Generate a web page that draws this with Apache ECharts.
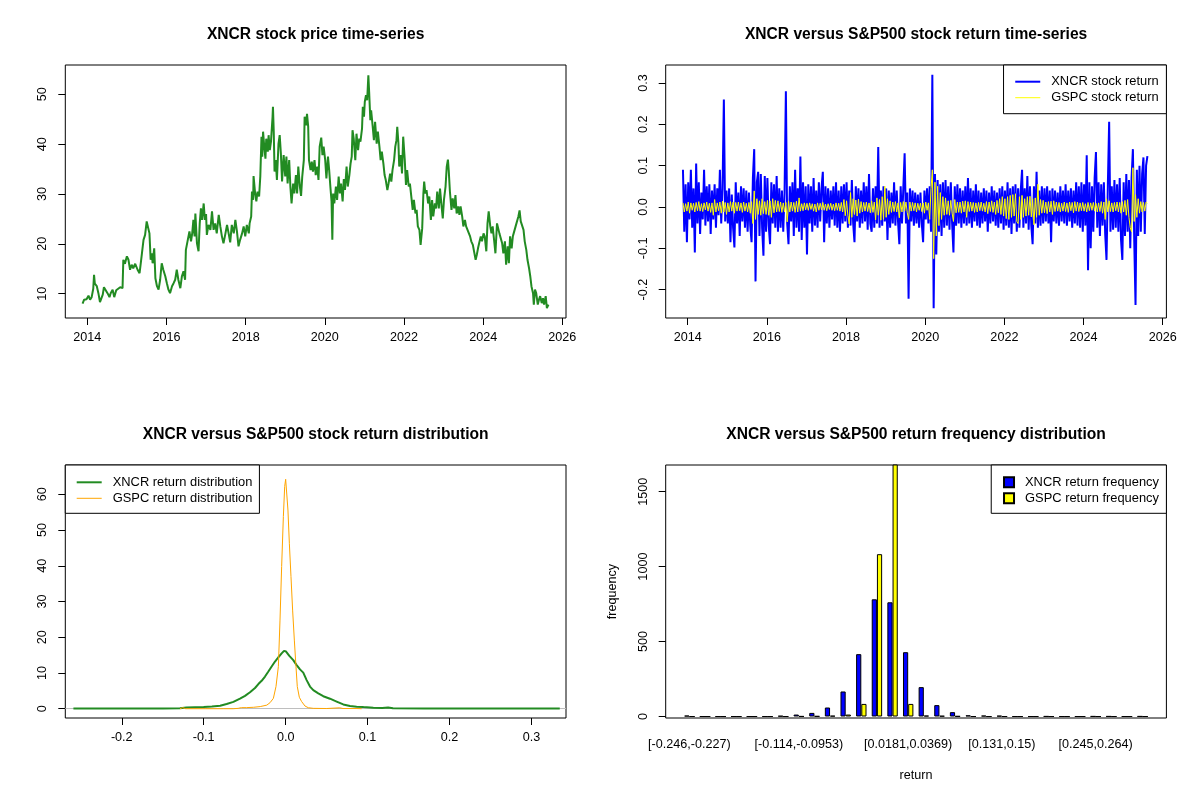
<!DOCTYPE html>
<html><head><meta charset="utf-8">
<script src="https://cdn.jsdelivr.net/npm/echarts@6/dist/echarts.min.js"></script>
<style>html,body{margin:0;padding:0;background:#fff}#c{width:1200px;height:800px}</style>
</head><body><div id="c"></div>
<script>
// ---------- DATA ----------
const pricePoints = [[2013.88,8.0],[2013.90,7.6],[2013.92,8.8],[2013.98,8.9],[2014.03,9.6],[2014.07,8.8],[2014.11,9.3],[2014.15,11.0],[2014.17,13.8],[2014.19,12.0],[2014.24,11.5],[2014.28,10.1],[2014.32,8.3],[2014.36,8.0],[2014.39,9.8],[2014.42,11.3],[2014.47,11.5],[2014.51,10.1],[2014.56,9.3],[2014.59,10.1],[2014.64,10.8],[2014.68,9.3],[2014.73,10.7],[2014.78,10.8],[2014.83,11.3],[2014.89,11.1],[2014.91,16.8],[2014.95,16.0],[2015.00,17.5],[2015.04,16.8],[2015.08,14.8],[2015.12,15.8],[2015.16,15.1],[2015.21,16.0],[2015.27,14.8],[2015.32,14.1],[2015.35,16.1],[2015.38,18.1],[2015.42,20.8],[2015.46,21.8],[2015.50,24.5],[2015.54,24.1],[2015.57,22.1],[2015.60,16.8],[2015.63,18.1],[2015.65,16.1],[2015.69,19.1],[2015.72,13.1],[2015.76,11.5],[2015.80,10.8],[2015.84,12.8],[2015.88,16.1],[2015.92,14.8],[2015.97,13.5],[2016.01,12.1],[2016.05,10.8],[2016.09,10.1],[2016.14,11.5],[2016.18,12.1],[2016.22,12.8],[2016.26,14.8],[2016.30,12.8],[2016.35,11.1],[2016.39,13.5],[2016.43,14.5],[2016.47,12.8],[2016.49,18.8],[2016.53,18.8],[2016.58,22.5],[2016.62,20.5],[2016.65,22.1],[2016.68,24.8],[2016.71,21.5],[2016.73,26.1],[2016.77,20.1],[2016.81,18.5],[2016.84,24.1],[2016.87,27.1],[2016.90,24.8],[2016.94,28.1],[2016.97,24.8],[2017.00,26.0],[2017.02,21.8],[2017.06,23.8],[2017.11,22.8],[2017.15,26.5],[2017.19,22.8],[2017.23,24.1],[2017.27,22.1],[2017.32,25.8],[2017.36,23.5],[2017.40,21.5],[2017.44,20.1],[2017.49,22.1],[2017.53,23.8],[2017.57,22.1],[2017.61,20.3],[2017.65,23.8],[2017.70,22.1],[2017.74,24.8],[2017.78,22.5],[2017.82,19.5],[2017.86,20.8],[2017.91,22.1],[2017.95,23.5],[2017.99,21.5],[2018.03,23.8],[2018.08,22.1],[2018.10,24.1],[2018.14,25.5],[2018.16,30.5],[2018.19,28.8],[2018.20,33.6],[2018.24,30.1],[2018.27,28.5],[2018.30,30.5],[2018.34,29.5],[2018.37,33.5],[2018.40,41.5],[2018.42,37.5],[2018.44,42.5],[2018.47,39.5],[2018.50,37.1],[2018.52,41.1],[2018.56,38.5],[2018.58,41.8],[2018.61,38.8],[2018.64,40.5],[2018.68,45.5],[2018.69,47.5],[2018.71,42.5],[2018.73,34.5],[2018.76,36.8],[2018.79,32.8],[2018.83,40.1],[2018.86,41.8],[2018.89,38.1],[2018.92,32.5],[2018.96,37.8],[2019.00,33.5],[2019.03,37.5],[2019.06,32.1],[2019.10,36.8],[2019.13,31.5],[2019.16,28.1],[2019.20,32.1],[2019.23,30.1],[2019.27,33.8],[2019.30,30.1],[2019.33,35.5],[2019.37,31.5],[2019.40,29.6],[2019.43,33.5],[2019.47,36.8],[2019.49,45.5],[2019.53,43.8],[2019.55,46.1],[2019.58,43.5],[2019.60,36.8],[2019.64,34.8],[2019.67,36.5],[2019.70,34.5],[2019.74,36.8],[2019.77,33.8],[2019.81,35.5],[2019.84,32.8],[2019.87,39.5],[2019.91,41.3],[2019.94,37.8],[2019.97,39.5],[2020.01,36.8],[2020.04,33.1],[2020.08,37.5],[2020.11,34.8],[2020.14,31.5],[2020.17,28.5],[2020.19,20.8],[2020.21,30.1],[2020.24,28.1],[2020.28,31.5],[2020.31,28.8],[2020.35,33.5],[2020.38,30.1],[2020.41,32.1],[2020.45,28.5],[2020.48,33.0],[2020.51,30.8],[2020.55,35.5],[2020.58,31.5],[2020.62,33.8],[2020.65,36.1],[2020.68,37.5],[2020.70,42.8],[2020.73,41.1],[2020.77,36.8],[2020.80,42.1],[2020.84,38.8],[2020.87,41.1],[2020.90,40.5],[2020.94,43.1],[2020.96,47.5],[2020.99,45.5],[2021.01,48.5],[2021.04,49.8],[2021.07,48.8],[2021.10,53.8],[2021.12,50.5],[2021.15,44.8],[2021.17,46.8],[2021.21,43.5],[2021.24,40.8],[2021.27,44.5],[2021.31,40.1],[2021.34,42.5],[2021.38,39.5],[2021.41,36.8],[2021.44,38.5],[2021.48,36.1],[2021.51,33.8],[2021.54,32.8],[2021.58,30.8],[2021.61,32.1],[2021.65,34.1],[2021.68,32.5],[2021.71,34.8],[2021.75,36.8],[2021.78,39.5],[2021.81,40.8],[2021.83,43.5],[2021.86,40.1],[2021.88,35.5],[2021.92,37.8],[2021.95,34.1],[2021.98,41.5],[2022.02,36.8],[2022.05,31.8],[2022.08,34.8],[2022.12,31.5],[2022.15,32.1],[2022.19,29.1],[2022.22,26.8],[2022.25,28.8],[2022.29,26.1],[2022.32,26.8],[2022.35,23.5],[2022.39,22.8],[2022.42,19.8],[2022.46,23.1],[2022.49,30.1],[2022.51,32.5],[2022.54,30.1],[2022.57,30.8],[2022.61,28.1],[2022.64,29.5],[2022.68,24.8],[2022.71,28.8],[2022.74,25.5],[2022.78,28.1],[2022.81,27.1],[2022.84,30.5],[2022.88,27.1],[2022.91,31.1],[2022.95,27.5],[2022.98,25.1],[2023.01,28.8],[2023.05,31.5],[2023.08,35.5],[2023.11,36.9],[2023.13,34.8],[2023.16,30.5],[2023.20,26.8],[2023.23,29.1],[2023.27,27.1],[2023.30,29.8],[2023.33,26.1],[2023.37,27.5],[2023.40,25.8],[2023.43,27.5],[2023.47,25.5],[2023.50,23.5],[2023.54,24.8],[2023.57,23.5],[2023.60,23.1],[2023.64,22.1],[2023.67,21.5],[2023.70,20.5],[2023.74,19.8],[2023.77,18.5],[2023.81,16.8],[2023.84,17.8],[2023.87,19.1],[2023.91,20.5],[2023.94,21.5],[2023.97,20.5],[2024.01,22.1],[2024.04,21.5],[2024.08,18.5],[2024.11,24.1],[2024.14,26.5],[2024.18,23.5],[2024.21,22.1],[2024.24,23.5],[2024.28,20.5],[2024.31,18.1],[2024.35,24.1],[2024.38,24.5],[2024.41,22.1],[2024.45,22.1],[2024.48,20.1],[2024.51,18.1],[2024.55,20.5],[2024.58,15.8],[2024.62,19.5],[2024.65,16.1],[2024.68,21.5],[2024.72,19.1],[2024.75,21.5],[2024.78,21.1],[2024.82,23.5],[2024.85,23.8],[2024.89,25.5],[2024.92,26.7],[2024.95,24.5],[2024.99,24.8],[2025.02,22.8],[2025.05,20.5],[2025.09,18.8],[2025.12,16.8],[2025.16,15.1],[2025.19,13.5],[2025.22,11.5],[2025.26,10.1],[2025.28,7.8],[2025.31,10.8],[2025.34,10.1],[2025.38,7.8],[2025.41,8.8],[2025.44,9.5],[2025.48,8.1],[2025.51,9.1],[2025.54,7.8],[2025.58,9.5],[2025.61,7.1],[2025.65,7.8]];

const returnStart = 2013.88;
const returnStep = 1/30;
const xncrReturns = [
0.09,-0.06,0.055,-0.085,0.06,-0.03,0.09,-0.05,0.045,-0.11,0.105,-0.04,0.06,-0.065,0.035,-0.03,0.09,-0.045,0.05,-0.035,0.055,-0.065,0.04,-0.03,0.055,-0.05,0.045,-0.02,0.09,-0.04,
0.045,0.26,-0.035,0.04,-0.04,0.045,-0.085,0.03,-0.05,-0.098,0.06,-0.04,0.035,-0.07,0.05,-0.035,0.045,-0.05,0.04,-0.06,0.035,-0.045,-0.085,0.07,0.14,-0.18,0.06,0.085,-0.07,0.08,
-0.05,-0.118,0.075,-0.06,0.07,-0.045,-0.09,0.06,-0.04,0.055,-0.05,0.075,-0.06,0.045,-0.05,0.04,-0.06,0.035,0.28,-0.04,-0.09,0.05,-0.035,0.06,-0.07,0.09,-0.05,0.045,-0.06,0.122,
-0.08,0.06,-0.05,0.05,-0.115,0.055,-0.04,0.05,-0.06,0.07,-0.045,0.04,-0.05,0.06,-0.035,0.045,0.085,-0.085,0.05,-0.04,0.045,-0.05,0.04,-0.03,0.05,-0.045,0.06,-0.05,0.04,-0.06,
0.05,-0.04,0.055,-0.035,0.06,-0.05,0.04,-0.045,0.065,-0.04,-0.085,0.05,-0.035,0.045,-0.05,0.04,-0.04,0.06,-0.035,0.05,-0.055,0.08,-0.04,-0.06,0.045,-0.05,0.05,-0.04,0.145,-0.05,
0.04,-0.045,0.05,-0.035,0.045,-0.08,0.04,-0.05,0.035,-0.04,0.06,-0.045,0.04,-0.035,-0.09,0.05,-0.04,0.045,0.13,-0.04,0.035,-0.222,0.045,-0.035,0.04,-0.045,0.035,-0.04,0.03,-0.05,
0.035,-0.04,-0.085,0.04,-0.03,0.045,-0.04,0.05,-0.06,0.32,-0.245,0.08,-0.115,0.065,-0.06,0.055,-0.07,0.06,-0.05,0.065,-0.045,0.05,-0.055,0.06,-0.04,-0.11,0.05,-0.045,0.055,-0.04,
0.045,-0.05,0.04,-0.04,0.05,-0.045,0.07,-0.04,0.045,-0.05,0.04,-0.035,0.055,-0.045,0.04,-0.05,0.035,-0.04,0.045,-0.035,0.04,-0.06,0.035,-0.04,0.05,-0.035,0.04,-0.045,0.035,-0.05,
0.045,-0.04,0.05,-0.055,0.04,-0.045,0.06,-0.05,0.045,-0.065,0.05,-0.04,0.055,-0.06,0.045,-0.05,0.04,0.09,-0.05,0.045,-0.04,0.075,-0.055,0.05,-0.045,-0.09,0.05,-0.04,0.085,-0.05,
0.04,-0.045,0.05,-0.04,0.045,-0.035,0.05,-0.04,0.04,-0.085,0.045,-0.035,0.04,-0.04,0.035,-0.045,0.05,-0.035,0.04,-0.04,0.055,-0.045,0.04,-0.035,0.045,-0.05,0.04,-0.04,0.06,-0.045,
0.05,-0.05,0.06,-0.06,0.055,-0.045,0.125,-0.153,0.06,-0.1,0.05,-0.06,0.07,0.133,-0.05,0.06,-0.07,0.055,-0.045,0.06,-0.065,-0.128,0.05,0.206,-0.06,0.05,-0.055,0.065,-0.05,0.055,
-0.06,0.07,-0.08,-0.128,0.06,-0.07,0.08,-0.06,0.065,-0.1,0.07,0.14,-0.08,-0.237,0.09,-0.07,0.1,-0.06,0.08,0.12,-0.065,0.1,0.123];
const gspcReturns = [
0.01,-0.012,0.008,-0.01,0.012,-0.015,0.01,-0.008,0.009,-0.012,0.011,-0.009,0.013,-0.01,0.008,-0.011,0.01,-0.007,0.012,-0.01,0.009,-0.013,0.01,-0.02,0.018,-0.012,0.01,-0.009,0.012,-0.015,
0.014,-0.012,0.011,-0.018,0.01,-0.012,0.013,-0.01,0.012,-0.015,0.011,-0.01,0.012,-0.009,0.01,-0.013,0.012,-0.01,0.009,-0.012,0.011,-0.015,0.013,-0.04,0.039,-0.03,0.02,-0.018,0.015,-0.02,
0.02,-0.016,0.013,-0.018,0.016,-0.02,0.015,-0.025,0.02,-0.014,0.016,-0.012,0.015,-0.011,0.012,-0.013,0.01,-0.012,0.011,-0.036,0.015,-0.012,0.012,-0.01,0.011,-0.013,0.014,-0.012,0.022,-0.01,
0.008,-0.009,0.01,-0.007,0.009,-0.008,0.01,-0.006,0.008,-0.01,0.007,-0.012,0.01,-0.008,0.009,-0.007,0.011,-0.008,0.007,-0.009,0.008,-0.006,0.009,-0.008,0.007,-0.009,0.01,-0.008,0.009,-0.01,
0.011,-0.012,0.018,-0.021,0.015,-0.02,-0.041,0.035,-0.025,0.02,-0.018,0.017,-0.022,0.019,-0.015,0.013,-0.012,0.011,-0.01,0.012,-0.011,0.01,-0.014,0.015,-0.013,0.012,-0.031,0.022,-0.02,0.018,
-0.032,0.025,-0.03,0.05,-0.025,0.02,-0.018,0.015,-0.013,0.012,-0.011,0.013,-0.012,0.01,-0.026,0.011,-0.012,0.013,-0.01,0.012,-0.014,-0.03,0.012,-0.01,0.011,-0.009,0.01,-0.012,0.009,-0.008,
0.009,-0.011,0.01,-0.015,0.012,-0.008,0.01,-0.03,0.045,0.09,-0.125,0.06,-0.07,0.05,-0.045,0.035,-0.03,0.025,-0.02,0.022,-0.018,0.015,-0.02,0.016,-0.015,-0.035,0.018,-0.014,0.012,-0.013,
0.012,-0.015,0.014,-0.012,0.015,-0.025,0.013,-0.011,0.012,-0.01,0.011,-0.013,0.01,-0.012,0.011,-0.009,0.012,-0.01,0.009,-0.012,0.013,-0.016,0.012,-0.011,0.015,-0.013,0.012,-0.018,0.016,-0.014,
0.02,-0.018,0.025,-0.022,0.02,-0.028,0.025,-0.03,0.028,-0.025,0.03,-0.022,0.032,-0.035,-0.04,0.025,-0.03,0.028,-0.025,0.02,-0.022,0.025,-0.02,0.026,-0.024,0.02,-0.043,0.022,-0.025,0.055,
-0.02,0.018,-0.015,0.016,-0.014,0.012,-0.016,0.013,-0.012,0.014,-0.018,0.015,-0.011,0.012,-0.01,0.011,-0.012,0.009,-0.01,0.012,-0.011,0.01,-0.013,0.012,-0.009,0.011,-0.014,0.013,-0.01,0.012,
-0.011,0.01,-0.009,0.011,-0.01,0.008,-0.012,0.011,-0.009,0.01,-0.008,0.011,-0.01,0.009,-0.012,0.01,-0.011,0.013,-0.015,0.012,-0.03,0.02,-0.012,0.015,-0.011,0.01,-0.012,0.011,-0.009,0.012,
-0.012,0.011,-0.015,0.013,-0.012,0.016,-0.02,0.018,-0.025,-0.05,-0.06,0.095,-0.035,0.03,-0.025,0.02,-0.015,0.013,-0.012,0.011,-0.01,0.012,0.009];

const xncrDensity = [[-0.259,0.05],[-0.2,0.05],[-0.15,0.08],[-0.129,0.15],[-0.121,0.37],[-0.1,0.47],[-0.09,0.65],[-0.08,0.84],[-0.072,1.3],[-0.0638,1.9],[-0.0557,2.8],[-0.0496,3.6],[-0.0435,4.6],[-0.0374,5.8],[-0.0333,6.9],[-0.0293,7.8],[-0.0252,9.0],[-0.0211,10.4],[-0.0171,11.8],[-0.013,13.2],[-0.0089,14.4],[-0.0049,15.5],[-0.002,16.2],[0.0005,16.0],[0.0045,14.8],[0.0093,13.6],[0.0134,12.2],[0.0175,11.0],[0.0215,10.1],[0.0256,8.0],[0.0297,6.2],[0.0337,5.2],[0.0398,4.3],[0.0459,3.5],[0.0541,2.8],[0.0622,2.0],[0.0703,1.2],[0.0785,0.75],[0.0866,0.56],[0.095,0.45],[0.107,0.3],[0.118,0.2],[0.125,0.35],[0.131,0.12],[0.17,0.06],[0.22,0.05],[0.26,0.07],[0.28,0.07],[0.32,0.06],[0.3345,0.05]];
const gspcDensity = [[-0.129,0],[-0.1256,0.3],[-0.122,0],[-0.102,0],[-0.1,0.3],[-0.098,0],[-0.08,0],[-0.078,0.3],[-0.076,0],[-0.064,0],[-0.062,0.3],[-0.058,0.1],[-0.054,0.3],[-0.048,0.3],[-0.039,0.4],[-0.031,0.6],[-0.023,1.0],[-0.019,1.7],[-0.015,2.9],[-0.0118,6.2],[-0.0089,11.8],[-0.0069,24.8],[-0.0049,39.8],[-0.0028,53.8],[-0.0012,62.2],[0,64.2],[0.0012,63.8],[0.0028,55.6],[0.0045,46.3],[0.0065,37.0],[0.0085,27.6],[0.0106,19.2],[0.0126,11.8],[0.0142,6.2],[0.0167,3.2],[0.0195,2.0],[0.0236,0.75],[0.0276,0.28],[0.0337,0.1],[0.05,0.05],[0.066,0.25],[0.07,0.05],[0.087,0.05],[0.0894,0.3],[0.0927,0]];

const binLabels = ['[-0.246,-0.227)','[-0.227,-0.208)','[-0.208,-0.189)','[-0.189,-0.17)','[-0.17,-0.152)','[-0.152,-0.133)','[-0.133,-0.114)','[-0.114,-0.0953)','[-0.0953,-0.0764)','[-0.0764,-0.0575)','[-0.0575,-0.0386)','[-0.0386,-0.0197)','[-0.0197,-0.000762)','[-0.000762,0.0181)','[0.0181,0.0369)','[0.0369,0.0558)','[0.0558,0.0747)','[0.0747,0.0936)','[0.0936,0.112)','[0.112,0.131)','[0.131,0.15)','[0.15,0.169)','[0.169,0.188)','[0.188,0.207)','[0.207,0.226)','[0.226,0.245)','[0.245,0.264)','[0.264,0.283)','[0.283,0.302)','[0.302,0.321]'];
const binLabelShown = [0,7,14,20,26];
const xncrFreq = [6,0,0,0,0,0,4,13,24,60,167,416,782,762,429,196,76,29,8,6,5,0,0,1,0,0,1,1,0,1];
const gspcFreq = [0,0,0,0,0,0,0,1,2,5,13,84,1083,1690,84,6,4,2,0,0,0,0,0,0,0,0,0,0,0,0];

const yearTicks = [2014,2016,2018,2020,2022,2024,2026];
const priceTicks = [10,20,30,40,50];
const returnTicks = [-0.2,-0.1,0,0.1,0.2,0.3];
const densXTicks = [-0.2,-0.1,0,0.1,0.2,0.3];
const densYTicks = [0,10,20,30,40,50,60];
const freqTicks = [0,500,1000,1500];

// ---------- CHART ----------
const FONT = 'Liberation Sans, Arial, sans-serif';
const AX_FS = 12.6, LEG_FS = 12.9, TITLE_FS = 15.6;
const chart = echarts.init(document.getElementById('c'), null, {renderer:'canvas'});
const boxGrid = (l,t,w,h,show) => ({left:l, top:t, width:w, height:h, show:show, borderColor:'#000', borderWidth:1, backgroundColor:'transparent', containLabel:false});
const G = {L:65.3, R:665.7, T:65, B:465, W:500.7, H:253};

function vAxis(grid, min, max, ticks, fmt, isY, extra){
  return Object.assign({
    type:'value', gridIndex:grid, min:min, max:max, splitLine:{show:false},
    axisLine:{show:false, onZero:false},
    axisTick:{show:true, length:7, lineStyle:{color:'#000', width:1}, customValues:ticks},
    axisLabel:{show:true, color:'#000', fontSize:AX_FS, fontFamily:FONT, customValues:ticks,
      formatter:fmt, rotate:isY?90:0, margin:isY?16:13.5}
  }, extra||{});
}
const f1 = v => Number(v).toFixed(1);
const f0 = v => String(Math.round(v));
const thickLine = 'path://M0,0H25V2H0Z';
const thinLine = 'path://M0,0H25V1H0Z';

const legendCommon = {orient:'vertical', itemGap:2, backgroundColor:'#fff', borderColor:'#000', borderWidth:1, borderRadius:0,
  selectedMode:false, align:'left', symbolKeepAspect:true,
  textStyle:{fontSize:LEG_FS, lineHeight:14, fontFamily:FONT, color:'#000', padding:[0,0,0,6]}};

const option = {
  animation:false,
  backgroundColor:'#fff',
  title:[
    {text:'XNCR stock price time-series', left:G.L+G.W/2, top:35},
    {text:'XNCR versus S&P500 stock return time-series', left:G.R+G.W/2, top:35},
    {text:'XNCR versus S&P500 stock return distribution', left:G.L+G.W/2, top:435},
    {text:'XNCR versus S&P500 return frequency distribution', left:G.R+G.W/2, top:435}
  ].map(t => Object.assign(t, {textAlign:'center', textVerticalAlign:'middle', padding:0,
      textStyle:{fontSize:TITLE_FS, fontWeight:'bold', fontFamily:FONT, color:'#000'}})),
  legend:[
    Object.assign({}, legendCommon, {data:[{name:'XNCR stock return', icon:thickLine},{name:'GSPC stock return', icon:thinLine}],
      right:1200-(G.R+G.W), top:G.T, itemWidth:25, itemHeight:14, padding:[9.7,7.7,9,11.7]}),
    Object.assign({}, legendCommon, {data:[{name:'XNCR return distribution', icon:thickLine},{name:'GSPC return distribution', icon:thinLine}],
      left:G.L, top:G.B, itemWidth:25, itemHeight:14, padding:[10.3,7,8,11.4]}),
    Object.assign({}, legendCommon, {data:[{name:'XNCR return frequency', icon:'rect'},{name:'GSPC return frequency', icon:'rect'}],
      right:1200-(G.R+G.W), top:G.B, itemWidth:10, itemHeight:10, padding:[10.3,7.4,8,11.8]})
  ],
  grid:[
    boxGrid(G.L, G.T, G.W, G.H, true),
    boxGrid(G.R, G.T, G.W, G.H, true),
    boxGrid(G.L, G.B, G.W, G.H, true),
    boxGrid(G.R, G.B, G.W, G.H, true),
    boxGrid(681.6, G.B, 468.8, G.H, false)
  ],
  xAxis:[
    vAxis(0, 2013.444, 2026.093, yearTicks, f0, false),
    vAxis(1, 2013.444, 2026.093, yearTicks, f0, false),
    vAxis(2, -0.2689, 0.3421, densXTicks, f1, false),
    {type:'value', gridIndex:3, min:0, max:1, show:false, axisLine:{onZero:false}},
    {type:'category', gridIndex:4, data:binLabels, boundaryGap:true,
      axisLine:{show:false, onZero:false}, axisTick:{show:false}, splitLine:{show:false},
      axisLabel:{color:'#000', fontSize:AX_FS, fontFamily:FONT, margin:20,
        interval:(idx) => binLabelShown.indexOf(idx) >= 0},
      name:'return', nameLocation:'middle', nameGap:51,
      nameTextStyle:{color:'#000', fontSize:AX_FS, fontFamily:FONT}}
  ],
  yAxis:[
    vAxis(0, 5.12, 55.88, priceTicks, f0, true),
    vAxis(1, -0.2686, 0.3436, returnTicks, f1, true),
    vAxis(2, -2.6, 68.2, densYTicks, f0, true),
    vAxis(3, -10, 1678, freqTicks, f0, true, {name:'frequency', nameLocation:'middle', nameRotate:90, nameGap:47,
      nameTextStyle:{color:'#000', fontSize:AX_FS, fontFamily:FONT}}),
    {type:'value', gridIndex:4, min:-10, max:1678, show:false, axisLine:{onZero:false}}
  ],
  series:[
    {name:'XNCR', type:'line', xAxisIndex:0, yAxisIndex:0, data:pricePoints, symbol:'none', showSymbol:false,
      lineStyle:{color:'#228B22', width:2}, itemStyle:{color:'#228B22'}},
    {name:'XNCR stock return', type:'line', xAxisIndex:1, yAxisIndex:1,
      data:xncrReturns.map((v,i)=>[returnStart+i*returnStep, v]), symbol:'none', showSymbol:false,
      lineStyle:{color:'#0000FF', width:2}, itemStyle:{color:'#0000FF'}},
    {name:'GSPC stock return', type:'line', xAxisIndex:1, yAxisIndex:1,
      data:gspcReturns.map((v,i)=>[returnStart+i*returnStep, v]), symbol:'none', showSymbol:false,
      lineStyle:{color:'#FFFF00', width:1}, itemStyle:{color:'#FFFF00'}},
    {name:'XNCR return distribution', type:'line', xAxisIndex:2, yAxisIndex:2, data:xncrDensity, symbol:'none', showSymbol:false,
      lineStyle:{color:'#228B22', width:2}, itemStyle:{color:'#228B22'}, z:2,
      markLine:{silent:true, symbol:'none', label:{show:false}, z:2, animation:false,
        lineStyle:{color:'#BEBEBE', width:1, type:'solid'}, data:[{yAxis:0}]}},
    {name:'GSPC return distribution', type:'line', xAxisIndex:2, yAxisIndex:2, data:gspcDensity, symbol:'none', showSymbol:false,
      lineStyle:{color:'#FFA500', width:1}, itemStyle:{color:'#FFA500'}, z:3},
    {name:'XNCR return frequency', type:'bar', xAxisIndex:4, yAxisIndex:4, data:xncrFreq, barWidth:5.2, barGap:'0%',
      itemStyle:{color:'#0000FF', borderColor:'#000', borderWidth:1}},
    {name:'GSPC return frequency', type:'bar', xAxisIndex:4, yAxisIndex:4, data:gspcFreq, barWidth:5.2, barGap:'0%',
      itemStyle:{color:'#FFFF00', borderColor:'#000', borderWidth:1}}
  ]
};
chart.setOption(option);
</script>
</body></html>
